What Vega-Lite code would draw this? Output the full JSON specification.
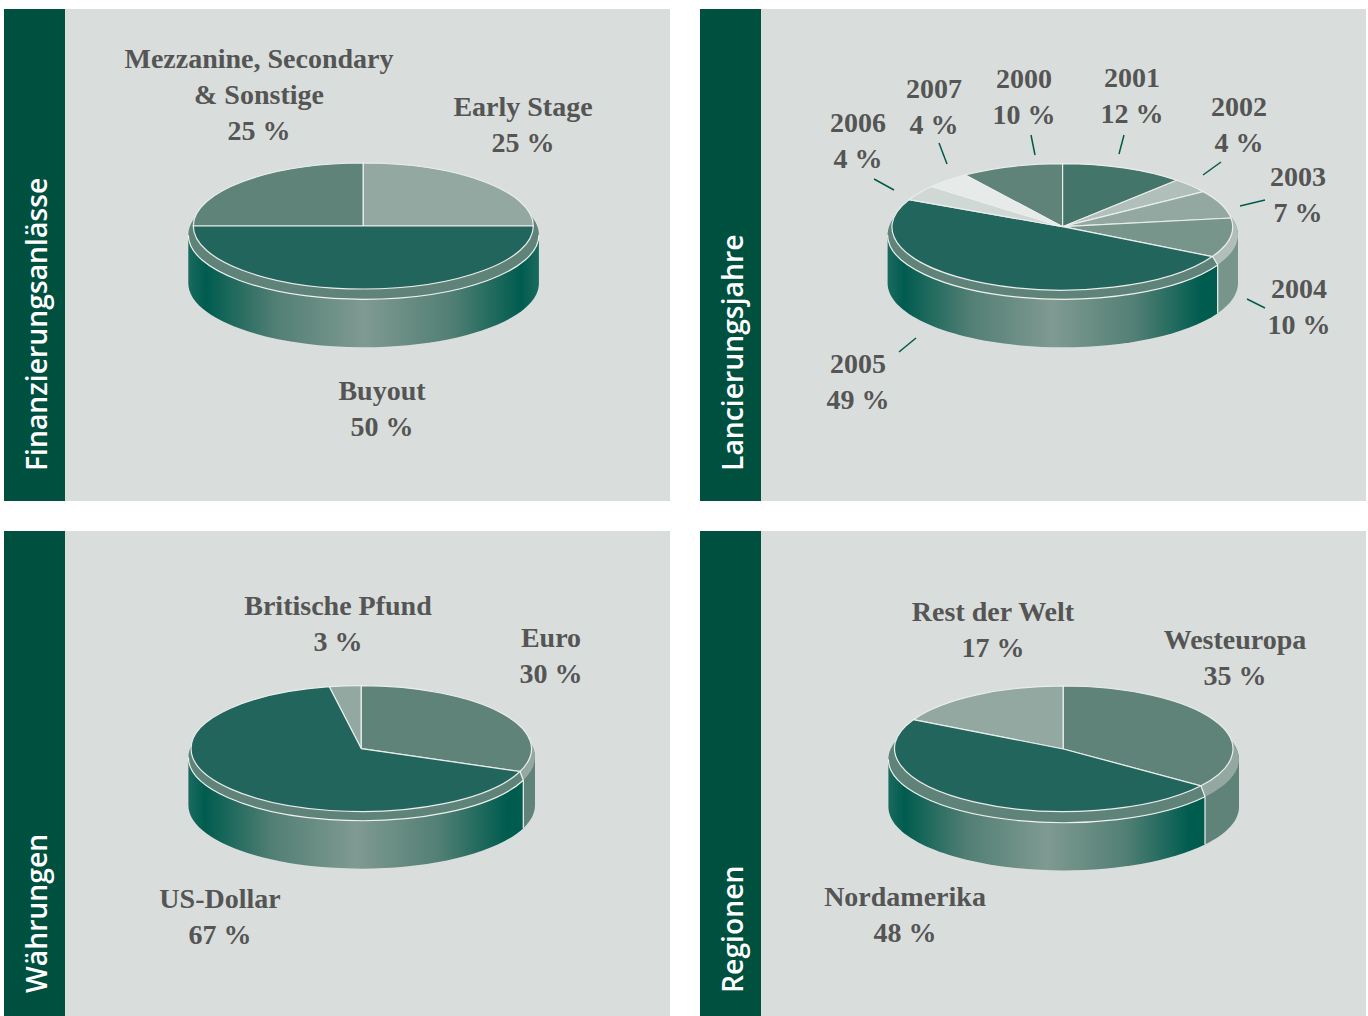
{"$schema":"https://vega.github.io/schema/vega-lite/v6.json","background":"white","padding":{"left":4,"top":9,"right":0,"bottom":0},"spacing":30,"resolve":{"scale":{"shape":"independent","color":"independent"}},"config":{"view":{"stroke":null},"text":{"font":"Liberation Serif","fontWeight":"bold","fontSize":28,"color":"#555555","align":"center","baseline":"alphabetic","lineBreak":"\n","lineHeight":36}},
"datasets":{
"fin":[{"n":1,"label":"Mezzanine, Secondary & Sonstige","share":25,"caption":"Mezzanine, Secondary\n& Sonstige\n25 %"},{"n":2,"label":"Early Stage","share":25,"caption":"Early Stage\n25 %"},{"n":3,"label":"Buyout","share":50,"caption":"Buyout\n50 %"}],
"lan":[{"n":1,"label":"2000","share":10,"caption":"2000\n10 %"},{"n":2,"label":"2001","share":12,"caption":"2001\n12 %"},{"n":3,"label":"2002","share":4,"caption":"2002\n4 %"},{"n":4,"label":"2003","share":7,"caption":"2003\n7 %"},{"n":5,"label":"2004","share":10,"caption":"2004\n10 %"},{"n":6,"label":"2005","share":49,"caption":"2005\n49 %"},{"n":7,"label":"2006","share":4,"caption":"2006\n4 %"},{"n":8,"label":"2007","share":4,"caption":"2007\n4 %"}],
"wae":[{"n":1,"label":"Britische Pfund","share":3,"caption":"Britische Pfund\n3 %"},{"n":2,"label":"Euro","share":30,"caption":"Euro\n30 %"},{"n":3,"label":"US-Dollar","share":67,"caption":"US-Dollar\n67 %"}],
"reg":[{"n":1,"label":"Rest der Welt","share":17,"caption":"Rest der Welt\n17 %"},{"n":2,"label":"Westeuropa","share":35,"caption":"Westeuropa\n35 %"},{"n":3,"label":"Nordamerika","share":48,"caption":"Nordamerika\n48 %"}]
},
"vconcat":[
{"resolve":{"scale":{"shape":"independent","color":"independent"}},"hconcat":[
{"resolve":{"scale":{"shape":"independent","color":"independent"}},"hconcat":[
{"width":61,"height":492,"view":{"fill":"#00503f","stroke":null},"data":{"values":[{"n":1,"panel":"Finanzierungsanlässe"}]},"mark":{"type":"text","angle":270,"align":"left","font":"Open Sans","fontWeight":600,"fontSize":28.3,"color":"white"},"encoding":{"text":{"field":"panel"},"x":{"field":"n","type":"quantitative","axis":null,"scale":{"domain":[0,1],"range":[0,43]}},"y":{"field":"n","type":"quantitative","axis":null,"scale":{"domain":[0,1],"range":[492,462]}}}},
{"width":605,"height":492,"view":{"fill":"#d9dedc","stroke":null},"layer":[
{"data":{"values":[{"part":"Mantel"}]},"mark":{"type":"point","size":4,"filled":true,"opacity":1,"shape":"M-179.2,-20 L-179.2,28.3 A175.3,64 0 0 0 171.4,28.3 L171.4,-20 Z","fill":{"gradient":"linear","x1":0,"y1":0,"x2":1,"y2":0,"stops":[{"offset":0,"color":"#1a6b5e"},{"offset":0.05,"color":"#005c4f"},{"offset":0.25,"color":"#527f74"},{"offset":0.5,"color":"#7f9a92"},{"offset":0.75,"color":"#527f74"},{"offset":0.95,"color":"#005c4f"},{"offset":1,"color":"#1a6b5e"}]}},"encoding":{}},
{"data":{"values":[{"part":"Rand"}]},"mark":{"type":"point","size":4,"filled":true,"opacity":1,"fill":"#5f8379","shape":"M-179.2,-20 A175.3,64.3 0 1 1 171.4,-20 A175.3,64.3 0 1 1 -179.2,-20 Z"},"encoding":{}},
{"data":{"values":[{"part":"Randlinie"}]},"mark":{"type":"point","size":4,"filled":false,"opacity":1,"stroke":"#eef1ef","strokeWidth":1.2,"shape":"M-179.2,-20 A175.3,64.3 0 0 0 171.4,-20"},"encoding":{}},
{"data":{"name":"fin"},"mark":{"type":"point","size":4,"filled":true,"opacity":1,"stroke":"#e9edeb","strokeWidth":1.2},"encoding":{"shape":{"field":"label","type":"nominal","legend":null,"scale":{"domain":["Mezzanine, Secondary & Sonstige","Early Stage","Buyout"],"range":["M-4.2,-29 L-174.2,-29 A170,63 0 0 1 -4.2,-92 Z","M-4.2,-29 L-4.2,-92 A170,63 0 0 1 165.8,-29 Z","M-174.2,-29 A170,63 0 0 0 165.8,-29 Z"]}},"color":{"field":"label","type":"nominal","legend":null,"scale":{"domain":["Mezzanine, Secondary & Sonstige","Early Stage","Buyout"],"range":["#5f8379","#94a8a2","#22655c"]}}}},
{"data":{"name":"fin"},"mark":{"type":"text"},"encoding":{"text":{"field":"caption"},"x":{"field":"n","type":"quantitative","axis":null,"scale":{"domain":[1,2,3],"range":[194,458,317],"nice":false,"zero":false}},"y":{"field":"n","type":"quantitative","axis":null,"scale":{"domain":[1,2,3],"range":[59,107,391],"nice":false,"zero":false}}}}
]}
],"spacing":0},
{"resolve":{"scale":{"shape":"independent","color":"independent"}},"hconcat":[
{"width":61,"height":492,"view":{"fill":"#00503f","stroke":null},"data":{"values":[{"n":1,"panel":"Lancierungsjahre"}]},"mark":{"type":"text","angle":270,"align":"left","font":"Open Sans","fontWeight":600,"fontSize":28.3,"color":"white"},"encoding":{"text":{"field":"panel"},"x":{"field":"n","type":"quantitative","axis":null,"scale":{"domain":[0,1],"range":[0,43]}},"y":{"field":"n","type":"quantitative","axis":null,"scale":{"domain":[0,1],"range":[492,462]}}}},
{"width":605,"height":492,"view":{"fill":"#d9dedc","stroke":null},"resolve":{"scale":{"shape":"independent"}},"layer":[
{"data":{"values":[{"part":"Mantel"}]},"mark":{"type":"point","size":4,"filled":true,"opacity":1,"shape":"M-175.9,-20 L-175.9,28.3 A175.2,64 0 0 0 154.2,58.2 L154.2,10 Z","fill":{"gradient":"linear","x1":0,"y1":0,"x2":1,"y2":0,"stops":[{"offset":0,"color":"#1a6b5e"},{"offset":0.05,"color":"#005c4f"},{"offset":0.25,"color":"#527f74"},{"offset":0.5,"color":"#7f9a92"},{"offset":0.75,"color":"#527f74"},{"offset":0.95,"color":"#005c4f"},{"offset":1,"color":"#005c4f"}]}},"encoding":{}},
{"data":{"values":[{"part":"Mantel rechts"}]},"mark":{"type":"point","size":4,"filled":true,"opacity":1,"fill":"#78958c","shape":"M154.2,10 L154.2,58.2 A175.2,64 0 0 0 174.5,28.3 L174.5,-20 Z"},"encoding":{}},
{"data":{"values":[{"part":"Rand"}]},"mark":{"type":"point","size":4,"filled":true,"opacity":1,"fill":"#5f8379","shape":"M-175.9,-20 A175.2,64.3 0 1 1 174.5,-20 A175.2,64.3 0 1 1 -175.9,-20 Z"},"encoding":{}},
{"data":{"values":[{"part":"Rand rechts"}]},"mark":{"type":"point","size":4,"filled":true,"opacity":1,"fill":"#b0bfb9","shape":"M148.8,1 L154.2,10 A175.2,64.3 0 0 0 174.5,-20 A175.2,64.3 0 0 0 165,-41 L100,-20 Z"},"encoding":{}},
{"data":{"values":[{"part":"Randlinie"}]},"mark":{"type":"point","size":4,"filled":false,"opacity":1,"stroke":"#eef1ef","strokeWidth":1.2,"shape":"M-175.9,-20 A175.2,64.3 0 0 0 154.2,10 M148.8,1 L154.2,10 L154.2,58.2"},"encoding":{}},
{"data":{"name":"lan"},"mark":{"type":"point","size":4,"filled":true,"opacity":1,"stroke":"#e9edeb","strokeWidth":1.2},"encoding":{"shape":{"field":"label","type":"nominal","legend":null,"scale":{"domain":["2000","2001","2002","2003","2004","2005","2006","2007"],"range":["M-0.9,-28.3 L-98.5,-80 A170,63 0 0 1 -0.9,-91.3 Z","M-0.9,-28.3 L-0.9,-91.3 A170,63 0 0 1 113.2,-74.7 Z","M-0.9,-28.3 L113.2,-74.7 A170,63 0 0 1 139.8,-63.4 Z","M-0.9,-28.3 L139.8,-63.4 A170,63 0 0 1 167.5,-37 Z","M-0.9,-28.3 L167.5,-37 A170,63 0 0 1 148.8,1.6 Z","M-0.9,-28.3 L148.8,1.6 A170,63 0 0 1 -154.5,-55.3 Z","M-0.9,-28.3 L-154.5,-55.3 A170,63 0 0 1 -131.8,-68.5 Z","M-0.9,-28.3 L-131.8,-68.5 A170,63 0 0 1 -98.5,-80 Z"]}},"color":{"field":"label","type":"nominal","legend":null,"scale":{"domain":["2000","2001","2002","2003","2004","2005","2006","2007"],"range":["#5f8379","#44756b","#b0bfb9","#94a8a2","#78958c","#22655c","#d0d8d6","#e6eae8"]}}}},
{"data":{"name":"lan"},"mark":{"type":"point","size":4,"filled":false,"opacity":1,"stroke":"#005a4c","strokeWidth":1.5},"encoding":{"shape":{"field":"label","type":"nominal","legend":null,"scale":{"domain":["2000","2001","2002","2003","2004","2005","2006","2007"],"range":["M-32.5,-120 L-28.5,-100","M60.5,-120 L55.5,-101","M157.5,-93 L139.5,-80","M201.5,-55 L176.5,-49","M183.5,44 L201.5,53","M-164.5,97 L-147.5,83","M-189.5,-76 L-169.5,-65","M-124.5,-112 L-116.5,-91"]}}}},
{"data":{"name":"lan"},"mark":{"type":"text"},"encoding":{"text":{"field":"caption"},"x":{"field":"n","type":"quantitative","axis":null,"scale":{"domain":[1,2,3,4,5,6,7,8],"range":[263,371,478,537,538,97,97,173],"nice":false,"zero":false}},"y":{"field":"n","type":"quantitative","axis":null,"scale":{"domain":[1,2,3,4,5,6,7,8],"range":[79,78,107,177,289,364,123,89],"nice":false,"zero":false}}}}
]}
],"spacing":0}
],"spacing":30},
{"resolve":{"scale":{"shape":"independent","color":"independent"}},"hconcat":[
{"resolve":{"scale":{"shape":"independent","color":"independent"}},"hconcat":[
{"width":61,"height":485,"view":{"fill":"#00503f","stroke":null},"data":{"values":[{"n":1,"panel":"Währungen"}]},"mark":{"type":"text","angle":270,"align":"left","font":"Open Sans","fontWeight":600,"fontSize":28.3,"color":"white"},"encoding":{"text":{"field":"panel"},"x":{"field":"n","type":"quantitative","axis":null,"scale":{"domain":[0,1],"range":[0,43]}},"y":{"field":"n","type":"quantitative","axis":null,"scale":{"domain":[0,1],"range":[485,462]}}}},
{"width":605,"height":485,"view":{"fill":"#d9dedc","stroke":null},"layer":[
{"data":{"values":[{"part":"Mantel"}]},"mark":{"type":"point","size":4,"filled":true,"opacity":1,"shape":"M-179.1,-16.2 L-179.1,31.8 A173.3,63.4 0 0 0 155.8,54.7 L155.8,6.7 Z","fill":{"gradient":"linear","x1":0,"y1":0,"x2":1,"y2":0,"stops":[{"offset":0,"color":"#1a6b5e"},{"offset":0.05,"color":"#005c4f"},{"offset":0.25,"color":"#527f74"},{"offset":0.5,"color":"#7f9a92"},{"offset":0.75,"color":"#527f74"},{"offset":0.95,"color":"#005c4f"},{"offset":1,"color":"#005c4f"}]}},"encoding":{}},
{"data":{"values":[{"part":"Mantel rechts"}]},"mark":{"type":"point","size":4,"filled":true,"opacity":1,"fill":"#5f8379","shape":"M155.8,6.7 L155.8,54.7 A173.3,63.4 0 0 0 167.5,31.8 L167.5,-16.2 Z"},"encoding":{}},
{"data":{"values":[{"part":"Rand"}]},"mark":{"type":"point","size":4,"filled":true,"opacity":1,"fill":"#5f8379","shape":"M-179.1,-16.2 A173.3,63.4 0 1 1 167.5,-16.2 A173.3,63.4 0 1 1 -179.1,-16.2 Z"},"encoding":{}},
{"data":{"values":[{"part":"Rand rechts"}]},"mark":{"type":"point","size":4,"filled":true,"opacity":1,"fill":"#94a8a2","shape":"M152.5,-2 L155.8,6.7 A173.3,63.4 0 0 0 167.5,-16.2 A173.3,63.4 0 0 0 158,-36.9 L100,-20 Z"},"encoding":{}},
{"data":{"values":[{"part":"Randlinie"}]},"mark":{"type":"point","size":4,"filled":false,"opacity":1,"stroke":"#eef1ef","strokeWidth":1.2,"shape":"M-179.1,-16.2 A173.3,63.4 0 0 0 155.8,6.7 M152.5,-2 L155.8,6.7 L155.8,54.7"},"encoding":{}},
{"data":{"name":"wae"},"mark":{"type":"point","size":4,"filled":true,"opacity":1,"stroke":"#e9edeb","strokeWidth":1.2},"encoding":{"shape":{"field":"label","type":"nominal","legend":null,"scale":{"domain":["Britische Pfund","Euro","US-Dollar"],"range":["M-6.2,-24.8 L-38.2,-86.8 A170.3,63 0 0 1 -6.2,-87.8 Z","M-6.2,-24.8 L-6.2,-87.8 A170.3,63 0 0 1 152.5,-2 Z","M-6.2,-24.8 L152.5,-2 A170.3,63 0 1 1 -38.2,-86.8 Z"]}},"color":{"field":"label","type":"nominal","legend":null,"scale":{"domain":["Britische Pfund","Euro","US-Dollar"],"range":["#94a8a2","#5f8379","#22655c"]}}}},
{"data":{"name":"wae"},"mark":{"type":"text"},"encoding":{"text":{"field":"caption"},"x":{"field":"n","type":"quantitative","axis":null,"scale":{"domain":[1,2,3],"range":[273,486,155],"nice":false,"zero":false}},"y":{"field":"n","type":"quantitative","axis":null,"scale":{"domain":[1,2,3],"range":[84,116,377],"nice":false,"zero":false}}}}
]}
],"spacing":0},
{"resolve":{"scale":{"shape":"independent","color":"independent"}},"hconcat":[
{"width":61,"height":485,"view":{"fill":"#00503f","stroke":null},"data":{"values":[{"n":1,"panel":"Regionen"}]},"mark":{"type":"text","angle":270,"align":"left","font":"Open Sans","fontWeight":600,"fontSize":28.3,"color":"white"},"encoding":{"text":{"field":"panel"},"x":{"field":"n","type":"quantitative","axis":null,"scale":{"domain":[0,1],"range":[0,43]}},"y":{"field":"n","type":"quantitative","axis":null,"scale":{"domain":[0,1],"range":[485,462]}}}},
{"width":605,"height":485,"view":{"fill":"#d9dedc","stroke":null},"layer":[
{"data":{"values":[{"part":"Mantel"}]},"mark":{"type":"point","size":4,"filled":true,"opacity":1,"shape":"M-175.1,-14.2 L-175.1,33.5 A175.3,63.4 0 0 0 141.5,71 L141.5,23.3 Z","fill":{"gradient":"linear","x1":0,"y1":0,"x2":1,"y2":0,"stops":[{"offset":0,"color":"#1a6b5e"},{"offset":0.05,"color":"#005c4f"},{"offset":0.25,"color":"#527f74"},{"offset":0.5,"color":"#7f9a92"},{"offset":0.75,"color":"#527f74"},{"offset":0.95,"color":"#005c4f"},{"offset":1,"color":"#005c4f"}]}},"encoding":{}},
{"data":{"values":[{"part":"Mantel rechts"}]},"mark":{"type":"point","size":4,"filled":true,"opacity":1,"fill":"#5f8379","shape":"M141.5,23.3 L141.5,71 A175.3,63.4 0 0 0 175.5,33.5 L175.5,-14.2 Z"},"encoding":{}},
{"data":{"values":[{"part":"Rand"}]},"mark":{"type":"point","size":4,"filled":true,"opacity":1,"fill":"#5f8379","shape":"M-175.1,-14.2 A175.3,63.4 0 1 1 175.5,-14.2 A175.3,63.4 0 1 1 -175.1,-14.2 Z"},"encoding":{}},
{"data":{"values":[{"part":"Rand rechts"}]},"mark":{"type":"point","size":4,"filled":true,"opacity":1,"fill":"#94a8a2","shape":"M137.5,12.3 L141.5,23.3 A175.3,63.4 0 0 0 175.5,-14.2 A175.3,63.4 0 0 0 165,-35.8 L100,-20 Z"},"encoding":{}},
{"data":{"values":[{"part":"Randlinie"}]},"mark":{"type":"point","size":4,"filled":false,"opacity":1,"stroke":"#eef1ef","strokeWidth":1.2,"shape":"M-175.1,-14.2 A175.3,63.4 0 0 0 141.5,23.3 M137.5,12.3 L141.5,23.3 L141.5,71"},"encoding":{}},
{"data":{"name":"reg"},"mark":{"type":"point","size":4,"filled":true,"opacity":1,"stroke":"#e9edeb","strokeWidth":1.2},"encoding":{"shape":{"field":"label","type":"nominal","legend":null,"scale":{"domain":["Rest der Welt","Westeuropa","Nordamerika"],"range":["M-0.2,-24.5 L-150.2,-53.8 A169.7,63 0 0 1 -0.2,-87.5 Z","M-0.2,-24.5 L-0.2,-87.5 A169.7,63 0 0 1 137.5,12.3 Z","M-0.2,-24.5 L137.5,12.3 A169.7,63 0 0 1 -150.2,-53.8 Z"]}},"color":{"field":"label","type":"nominal","legend":null,"scale":{"domain":["Rest der Welt","Westeuropa","Nordamerika"],"range":["#94a8a2","#5f8379","#22655c"]}}}},
{"data":{"name":"reg"},"mark":{"type":"text"},"encoding":{"text":{"field":"caption"},"x":{"field":"n","type":"quantitative","axis":null,"scale":{"domain":[1,2,3],"range":[232,474,144],"nice":false,"zero":false}},"y":{"field":"n","type":"quantitative","axis":null,"scale":{"domain":[1,2,3],"range":[90,118,375],"nice":false,"zero":false}}}}
]}
],"spacing":0}
],"spacing":30}
]}
